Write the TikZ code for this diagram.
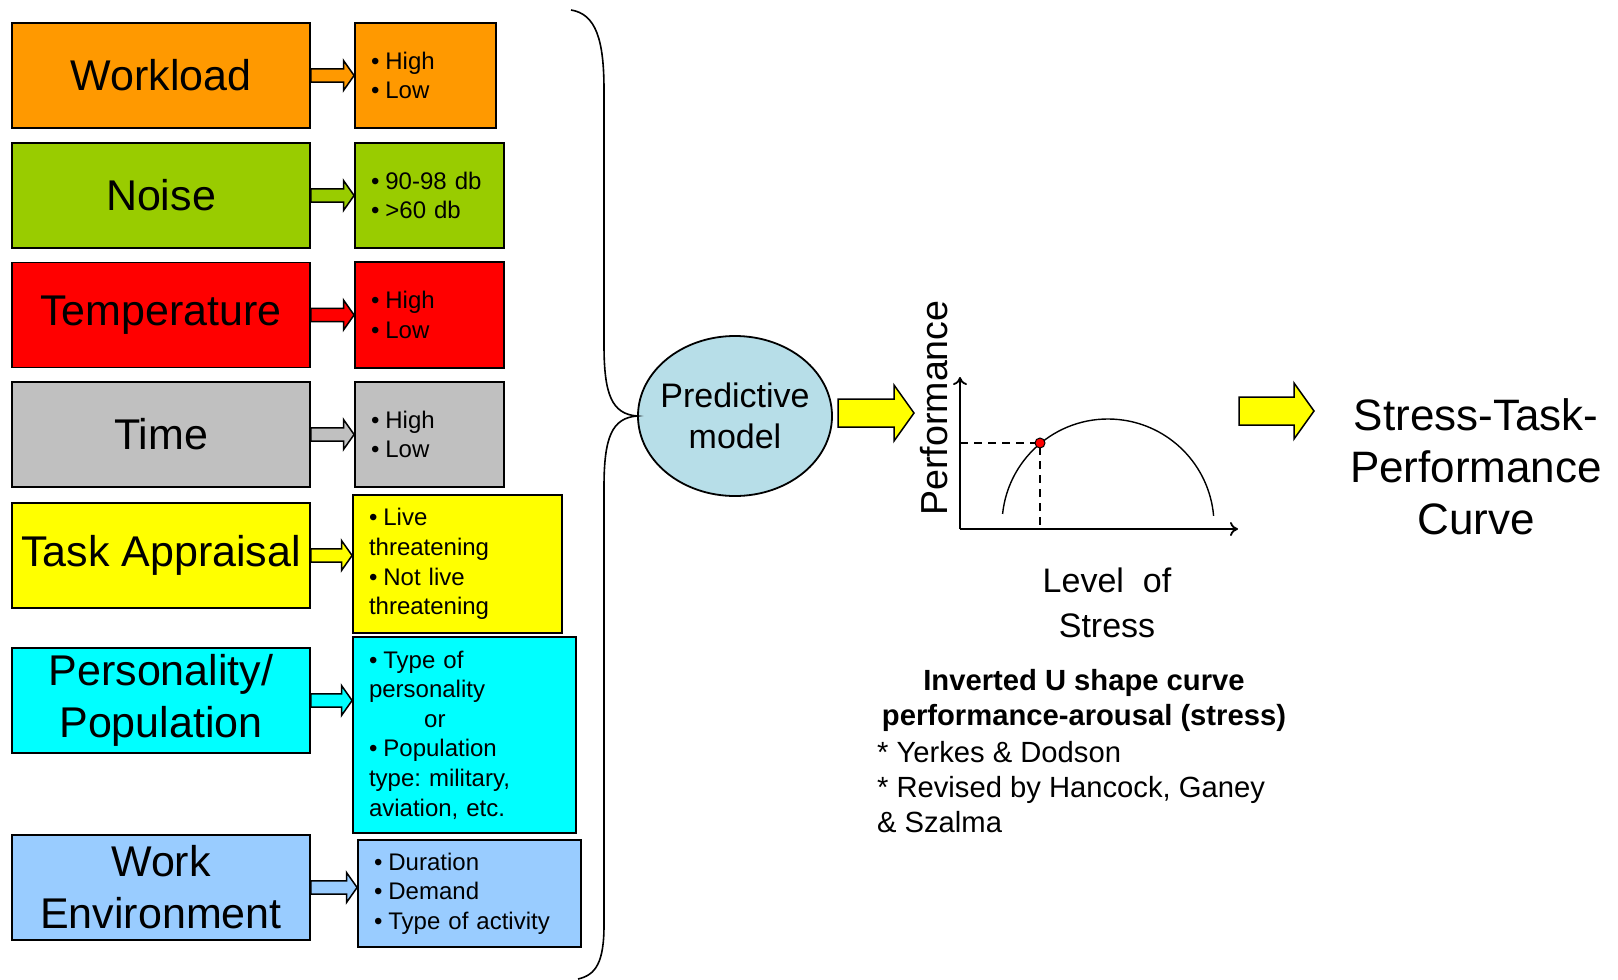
\documentclass[tikz,border=0pt]{standalone}
\usepackage{fontspec}
\setmainfont{Liberation Sans}
\frenchspacing
\usetikzlibrary{shapes.geometric,calc,arrows.meta}

\definecolor{wlcol}{HTML}{FF9900}
\definecolor{nscol}{HTML}{99CC00}
\definecolor{tpcol}{HTML}{FF0000}
\definecolor{tmcol}{HTML}{C0C0C0}
\definecolor{tacol}{HTML}{FFFF00}
\definecolor{pscol}{HTML}{00FFFF}
\definecolor{wecol}{HTML}{99CCFF}
\definecolor{pmcol}{HTML}{B7DEE8}

\newcommand{\bul}{\textbullet\hspace{0.25em}}
% block arrow: start, end, colour, half shaft, half head, head length
\newcommand{\blockarrow}[6]{%
  \draw[line width=0.75pt, fill=#3] let \p1=(#1), \p2=(#2) in
    (\x1,\y1+#4) -- (\x2-#6,\y1+#4) -- (\x2-#6,\y1+#5) -- (\x2,\y1)
    -- (\x2-#6,\y1-#5) -- (\x2-#6,\y1-#4) -- (\x1,\y1-#4) -- cycle;}

\begin{document}
\begin{tikzpicture}[x=0.5pt,y=-0.5pt,
        factor/.style={
        draw=black, line width=0.9pt,
        minimum width=149pt, minimum height=52.5pt,
        inner sep=2pt, align=center,
        font=\fontsize{21.5}{26}\selectfont},
        level/.style={
        draw=black, line width=0.9pt,
        inner xsep=8pt, inner ysep=2pt, align=left,
        font=\fontsize{12}{14.8}\selectfont},
        axis/.style={line width=0.9pt, -{To[length=4pt,width=7pt]}},
        ]

        \useasboundingbox (0,0) rectangle (1618,980);

        \node (wl) [factor, fill=wlcol] at (161,75.5) {Workload};
        \node (ns) [factor, fill=nscol] at (161,195.5) {Noise};
        \node (tp) [factor, fill=tpcol] at (161,315) {Temperature};
        \node (tm) [factor, fill=tmcol] at (161,434.5) {Time};
        \node (ta) [factor, fill=tacol] at (161,555.5) {Task Appraisal};
        \node (ps) [factor, fill=pscol] at (161,700.5) {Personality/\\Population};
        \node (we) [factor, fill=wecol] at (161,887.5) {Work\\Environment};

        \node (wlo) [level, fill=wlcol, text width=54.5pt, minimum height=52.5pt] at (425.5,75.5) {\bul High\\\bul Low};
        \node (nso) [level, fill=nscol, text width=58.5pt, minimum height=52.5pt] at (429.5,195.5) {\bul 90-98 db\\\bul >60 db};
        \node (tpo) [level, fill=tpcol, text width=58.5pt, minimum height=53pt] at (429.5,315) {\bul High\\\bul Low};
        \node (tmo) [level, fill=tmcol, text width=58.5pt, minimum height=52.5pt] at (429.5,434.5) {\bul High\\\bul Low};
        \node (tao) [level, fill=tacol, text width=88.5pt, minimum height=69pt] at (457.5,564) {\bul Live\\threatening\\\bul Not live\\threatening};
        \node (pso) [level, fill=pscol, text width=95.5pt, minimum height=98pt] at (464.5,735) {\bul Type of\\personality\\\hspace*{2.3em}or\\\bul Population\\type: military,\\aviation, etc.};
        \node (weo) [level, fill=wecol, text width=95.5pt, minimum height=53.5pt] at (469.5,893.5) {\bul Duration\\\bul Demand\\\bul Type of activity};

        \blockarrow{wl.east}{wlo.west}{wlcol}{3.3pt}{7.5pt}{5.3pt}
        \blockarrow{ns.east}{nso.west}{nscol}{3.3pt}{7.5pt}{5.3pt}
        \blockarrow{tp.east}{tpo.west}{tpcol}{3.3pt}{7.5pt}{5.3pt}
        \blockarrow{tm.east}{tmo.west}{tmcol}{3.3pt}{7.5pt}{5.3pt}
        \blockarrow{ta.east}{tao.west}{tacol}{3.3pt}{7.5pt}{5.3pt}
        \blockarrow{ps.east}{pso.west}{pscol}{3.3pt}{7.5pt}{5.3pt}
        \blockarrow{we.east}{weo.west}{wecol}{3.3pt}{7.5pt}{5.3pt}

        \node (pm) [ellipse, draw=black, line width=0.9pt, fill=pmcol,
            minimum width=97pt, minimum height=80pt, inner xsep=-4pt, inner ysep=0pt, align=center,
            font=\fontsize{17}{20.5}\selectfont] at (735,416) {Predictive\\model};

        \draw [line width=0.8pt] (571,10) .. controls (596,14) and (604,40) .. (604,90)
            -- (604,345) .. controls (604,395) and (612,414) .. (pm.west)
            .. controls (612,418) and (604,437) .. (604,487)
            -- (604,925) .. controls (604,962) and (596,975) .. (578,979);

        \coordinate (a1s) at (838,413);
        \coordinate (a1e) at (914,413);
        \blockarrow{a1s}{a1e}{tacol}{7pt}{14pt}{10pt}

        \coordinate (o) at (960,529);
        \coordinate (ytop) at (960,377);
        \coordinate (xend) at (1238,529);
        \coordinate (p) at (1040,443);
        \draw [axis] (o) -- (ytop);
        \draw [axis] (o) -- (xend);
        \draw [line width=0.7pt] (1108,525) ++(-174:106) arc[start angle=-174, end angle=-5, radius=106];
        \draw [dashed, dash pattern=on 4pt off 3pt, line width=0.8pt] (o |- p) -- (p) -- (p |- o);
        \node (pt) [circle, draw=black, fill=red, inner sep=0pt, minimum size=5pt, line width=0.5pt] at (p) {};

        \node (perf) [rotate=90, font=\fontsize{18.8}{22}\selectfont] at (934,408) {Performance};
        \node (lvl) [align=center, font=\fontsize{17}{22.5}\selectfont] at (1107,603) {Level\ \ of\\Stress};

        \node (capb) [align=center, font=\bfseries\fontsize{14.6}{17.5}\selectfont] at (1084,700) {Inverted U shape curve\\performance-arousal (stress)};
        \node (capn) [align=left, anchor=west, font=\fontsize{14.6}{17.5}\selectfont] at (870,787) {* Yerkes \& Dodson\\* Revised by Hancock, Ganey\\\& Szalma};

        \coordinate (a2s) at (1239,411);
        \coordinate (a2e) at (1314,411);
        \blockarrow{a2s}{a2e}{tacol}{7pt}{14pt}{10pt}

        \node (stp) [align=center, font=\fontsize{22}{26}\selectfont] at (1476,467) {Stress-Task-\\Performance\\Curve};
    \end{tikzpicture}
\end{document}
